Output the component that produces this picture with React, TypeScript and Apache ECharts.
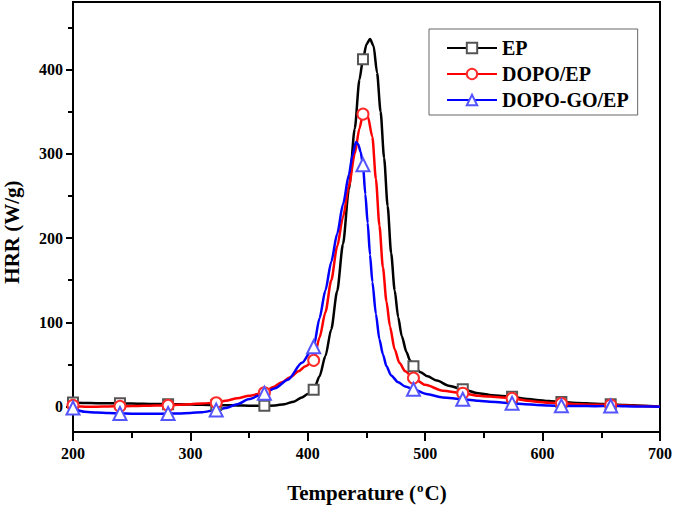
import React, { useEffect, useRef } from "react";
import * as echarts from "echarts";

const seriesNames = ["EP", "DOPO/EP", "DOPO-GO/EP"];
const yMajorTicks = [0, 100, 200, 300, 400];
const yMinorTicks = [50, 150, 250, 350, 450];

// temperatures where symbols are drawn
const markerTemps = [200, 240, 281, 322, 363, 405, 447, 490, 532, 574, 616, 658];
const epMarkers = [5, 4, 3, 2, 1, 20, 412, 48, 20.6, 11.9, 5.6, 2.8];
const dopoMarkers = [1.5, 0.5, 1.6, 4.7, 16.6, 55, 347, 34, 16, 10, 4, 2];
const dopoGoMarkers = [-1.5, -8, -8, -4, 16, 71, 287, 20.6, 8.8, 4, 1, 0.9];

const epCurve: number[][] = [
  [210, 4.5], [220, 4.2], [230, 4], [250, 3.7], [260, 3.5], [270, 3.2], [290, 2.8], [300, 2.5],
  [310, 2.2], [335, 1.6], [345, 1.3], [355, 1], [372, 1.5], [380, 3], [388, 6], [395, 11],
  [400, 15], [410, 36], [415, 60], [420, 92], [425, 137], [430, 193], [435, 258], [440, 330],
  [444, 388], [450, 430], [453, 436], [456, 428], [459, 396], [462, 350], [465, 295], [468, 238],
  [471, 182], [474, 138], [477, 106], [480, 84], [484, 65], [487, 55], [496, 41], [502, 36],
  [510, 31], [520, 25], [545, 16], [555, 14], [565, 12.8], [585, 9.5], [595, 8], [605, 6.7],
  [630, 4.5], [645, 3.6], [670, 2], [685, 1.2], [700, 0],
];

const dopoCurve: number[][] = [
  [205, 0.3], [210, 0], [220, 0], [230, 0.3], [250, 0.8], [260, 1], [270, 1.3], [290, 2.2],
  [300, 3], [310, 3.8], [330, 7], [340, 10], [350, 13], [370, 23], [378, 29], [385, 35],
  [392, 42], [398, 48], [410, 82], [415, 112], [420, 150], [425, 190], [430, 225], [435, 262],
  [440, 300], [444, 330], [449, 348], [451, 345], [455, 320], [458, 270], [461, 215], [464, 165],
  [467, 125], [470, 95], [474, 68], [478, 52], [483, 42], [500, 26], [515, 19], [545, 13],
  [555, 12], [565, 11], [585, 7.5], [595, 6], [605, 4.8], [630, 3], [645, 2.4], [670, 1.5],
  [685, 0.8], [700, 0],
];

const dopoGoCurve: number[][] = [
  [203, -4], [210, -6], [220, -7], [230, -7.5], [250, -8.3], [260, -8.5], [270, -8.5], [290, -8],
  [300, -7.5], [310, -6.5], [330, -1.5], [340, 3], [350, 9], [372, 22], [383, 32], [395, 52],
  [410, 105], [415, 138], [420, 172], [425, 205], [430, 240], [435, 275], [438, 298], [441, 314],
  [443, 311], [445, 302], [449, 252], [451, 218], [453, 180], [455, 148], [458, 110], [461, 80],
  [464, 62], [467, 48], [471, 37], [477, 29], [483, 24], [501, 15], [515, 11], [545, 7],
  [555, 6], [565, 5], [585, 3], [595, 2], [605, 1.5], [630, 0.8], [645, 0.6], [670, 0.5],
  [685, 0.2], [700, 0],
];

const FONT = "'Liberation Serif', 'Times New Roman', serif";

function buildData(curve: number[][], markers: number[]) {
  const pts: any[] = curve.map(([t, v]) => ({ value: [t, v], symbol: "none" }));
  markerTemps.forEach((t, i) => pts.push({ value: [t, markers[i]] }));
  pts.sort((a, b) => a.value[0] - b.value[0]);
  return pts;
}

export default function App() {
  const ref = useRef<HTMLDivElement>(null);
  useEffect(() => {
    document.body.style.margin = "0";
    const chart = echarts.init(ref.current!, null, { renderer: "svg" });
    const lineSeries = (
      name: string,
      curve: number[][],
      markers: number[],
      lineColor: string,
      symColor: string,
      symbol: string,
      size: number
    ) => ({
      name,
      type: "line",
      data: buildData(curve, markers),
      smooth: 0.25,
      smoothMonotone: "x",
      symbol,
      symbolSize: size,
      showSymbol: true,
      lineStyle: { color: lineColor, width: 2.5 },
      itemStyle: { color: symColor, borderWidth: 1.3 },
      emphasis: { disabled: true },
      z: 3,
    });
    const labelStyle = {
      fontSize: 16,
      fontWeight: "bold",
      fontFamily: FONT,
      color: "#000",
    };
    chart.setOption({
      animation: false,
      backgroundColor: "#fff",
      grid: {
        left: 73,
        right: 15,
        top: 2,
        bottom: 73,
        show: true,
        borderColor: "#000",
        borderWidth: 2,
        backgroundColor: "transparent",
      },
      legend: {
        data: seriesNames,
        orient: "vertical",
        left: 429,
        top: 29,
        itemWidth: 50,
        itemHeight: 13,
        itemGap: 6,
        padding: [9, 9, 5, 17],
        borderColor: "#666",
        borderWidth: 1,
        selectedMode: false,
        textStyle: { fontSize: 20, fontWeight: "bold", fontFamily: FONT, color: "#000", lineHeight: 20 },
      },
      xAxis: {
        type: "value",
        min: 200,
        max: 700,
        interval: 100,
        axisLine: { show: true, onZero: false, lineStyle: { color: "#000", width: 2 } },
        axisTick: { show: true, inside: false, length: 9, lineStyle: { color: "#000", width: 2 } },
        minorTick: { show: true, splitNumber: 2, length: 6, lineStyle: { color: "#000", width: 2 } },
        splitLine: { show: false },
        minorSplitLine: { show: false },
        axisLabel: { ...labelStyle, margin: 13 },
      },
      yAxis: [
        {
          type: "value",
          min: -30,
          max: 480,
          axisLine: { show: true, onZero: false, lineStyle: { color: "#000", width: 2 } },
          axisTick: {
            show: true,
            inside: false,
            length: 7,
            lineStyle: { color: "#000", width: 2 },
            customValues: yMajorTicks,
          },
          splitLine: { show: false },
          axisLabel: { ...labelStyle, margin: 10, customValues: yMajorTicks },
        },
        {
          type: "value",
          min: -30,
          max: 480,
          position: "left",
          axisLine: { show: false, onZero: false },
          axisTick: {
            show: true,
            inside: false,
            length: 5,
            lineStyle: { color: "#000", width: 2 },
            customValues: yMinorTicks,
          },
          splitLine: { show: false },
          axisLabel: { show: false },
        },
      ],
      series: [
        lineSeries(seriesNames[0], epCurve, epMarkers, "#000000", "#555555", "emptyRect", 10),
        lineSeries(seriesNames[1], dopoCurve, dopoMarkers, "#ff0000", "#ff2a2a", "emptyCircle", 11),
        lineSeries(seriesNames[2], dopoGoCurve, dopoGoMarkers, "#0000ff", "#5555ff", "emptyTriangle", 13),
      ],
      graphic: [
        {
          type: "text",
          x: 367,
          y: 493,
          style: {
            text: "{n|Temperature (}{s|o}{n|C)}",
            align: "center",
            verticalAlign: "middle",
            rich: {
              n: { fontSize: 21, fontWeight: "bold", fontFamily: FONT, fill: "#000" },
              s: { fontSize: 13, fontWeight: "bold", fontFamily: FONT, fill: "#000", verticalAlign: "top", padding: [0, 1, 12, 1] },
            },
          },
        },
        {
          type: "text",
          x: 12,
          y: 232,
          rotation: Math.PI / 2,
          style: {
            text: "HRR (W/g)",
            align: "center",
            verticalAlign: "middle",
            fontSize: 21,
            fontWeight: "bold",
            fontFamily: FONT,
            fill: "#000",
          },
        },
      ],
    });
    return () => chart.dispose();
  }, []);
  return (
    <div
      ref={ref}
      style={{ position: "absolute", left: 0, top: 0, width: 675, height: 505 }}
    />
  );
}
